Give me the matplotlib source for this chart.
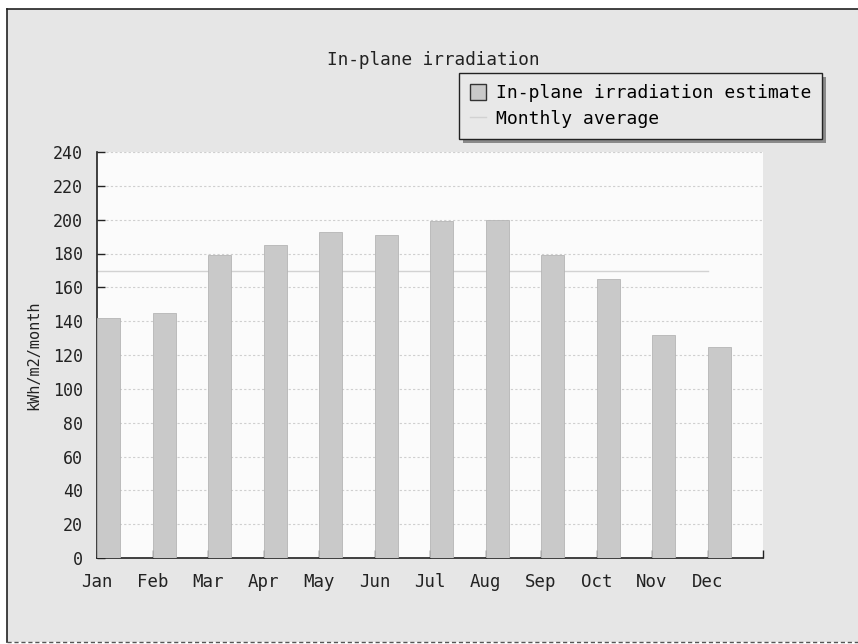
import matplotlib
matplotlib.use("Agg")
import matplotlib.pyplot as plt
from matplotlib.patches import Rectangle
from matplotlib.lines import Line2D
import numpy as np

months = ["Jan", "Feb", "Mar", "Apr", "May", "Jun", "Jul", "Aug", "Sep", "Oct", "Nov", "Dec"]
irradiation = [142, 145, 179, 185, 193, 191, 199, 200, 179, 165, 132, 125]
monthly_average = [169.6] * 12
yticks = list(range(0, 241, 20))

FONT = "DejaVu Sans Mono"
W, H = 858, 644
fig = plt.figure(figsize=(W / 100, H / 100), dpi=100)
fig.patch.set_facecolor("white")

# outer panel background and frame
bg = Rectangle((7 / W, 2 / H), 1.2, 1 - 11 / H, transform=fig.transFigure,
               facecolor="#e6e6e6", edgecolor="none", zorder=-5)
fig.patches.append(bg)
fig.add_artist(Line2D([7 / W, 7 / W], [2 / H, 1 - 9 / H], transform=fig.transFigure,
                      color="#222222", lw=1.2, zorder=-4))
fig.add_artist(Line2D([7 / W, 1.0], [1 - 9 / H, 1 - 9 / H], transform=fig.transFigure,
                      color="#222222", lw=1.2, zorder=-4))
fig.add_artist(Line2D([7 / W, 1.0], [2 / H, 2 / H], transform=fig.transFigure,
                      color="#555555", lw=1.0, ls=(0, (3, 2)), zorder=-4))

ax = fig.add_axes([97 / W, (H - 558) / H, 666 / W, 406 / H])
ax.set_zorder(1)
ax.set_facecolor("#fbfbfb")

x = np.arange(len(months))
bars = ax.bar(x, irradiation, width=0.42, align="edge", color="#c9c9c9",
              edgecolor="#b5b5b5", linewidth=0.6, zorder=3, label="In-plane irradiation estimate")
line, = ax.plot(x, monthly_average, color="#d2d2d2", lw=1.0, zorder=2, label="Monthly average")

ax.set_xlim(0, 12)
ax.set_ylim(0, 240)
ax.set_yticks(yticks)
ax.set_yticklabels([str(v) for v in yticks], fontfamily=FONT, fontsize=12, color="#222222")
ax.set_xticks(list(x) + [12])
ax.set_xticklabels(months + [""], fontfamily=FONT, fontsize=12.5, color="#222222")
ax.tick_params(axis="both", direction="in", length=6, width=1.0, color="#222222")
ax.tick_params(axis="y", pad=10)
ax.tick_params(axis="x", pad=11)

for s in ["top", "right"]:
    ax.spines[s].set_visible(False)
for s in ["left", "bottom"]:
    ax.spines[s].set_color("#222222")
    ax.spines[s].set_linewidth(1.2)

ax.yaxis.grid(True, color="#cfcfcf", lw=0.8, ls=(0, (2, 2)), zorder=1)
ax.set_axisbelow(True)

ax.set_ylabel("kWh/m2/month", fontfamily=FONT, fontsize=11, color="#222222")
ax.yaxis.set_label_coords(-0.083, 0.5)

fig.text(433 / W, 1 - 60 / H, "In-plane irradiation", ha="center", va="center",
         fontfamily=FONT, fontsize=12.8, color="#222222")

leg = fig.legend(handles=[bars, line], labels=["In-plane irradiation estimate", "Monthly average"],
                 loc="upper left", bbox_to_anchor=(459 / W, 1 - 73 / H),
                 prop={"family": FONT, "size": 13}, frameon=True, fancybox=False,
                 facecolor="#e8e8e8", edgecolor="#222222", framealpha=1,
                 handlelength=0.9, handleheight=1.0, handletextpad=0.55,
                 borderpad=0.6, labelspacing=0.45, borderaxespad=0)
leg.get_frame().set_linewidth(1.0)
leg.set_zorder(5)
for h in leg.legend_handles:
    if isinstance(h, Rectangle):
        h.set_edgecolor("#333333")
        h.set_linewidth(1.0)

fig.canvas.draw()
bb = leg.get_window_extent().transformed(fig.transFigure.inverted())
shadow = Rectangle((bb.x0 + 4 / W, bb.y0 - 4 / H), bb.width, bb.height,
                   transform=fig.transFigure, facecolor="#8a8a8a", edgecolor="none", zorder=4)
fig.patches.append(shadow)

fig.savefig("out.png", dpi=100)
